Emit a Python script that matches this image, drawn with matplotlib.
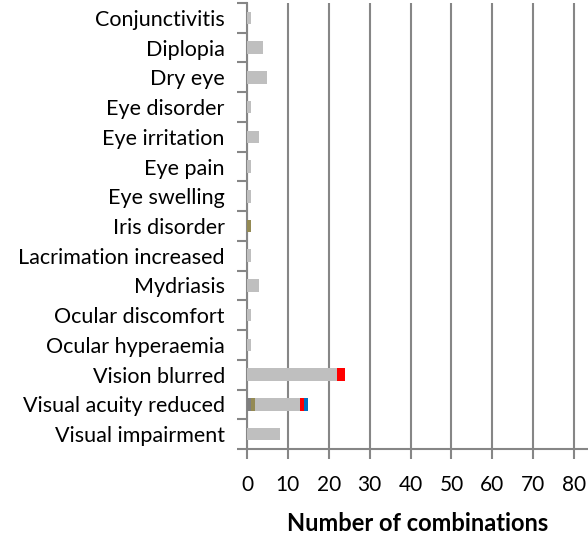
import numpy as np
import matplotlib.pyplot as plt

categories = ['Conjunctivitis', 'Diplopia', 'Dry eye', 'Eye disorder', 'Eye irritation',
              'Eye pain', 'Eye swelling', 'Iris disorder', 'Lacrimation increased',
              'Mydriasis', 'Ocular discomfort', 'Ocular hyperaemia', 'Vision blurred',
              'Visual acuity reduced', 'Visual impairment']

# stacked segments, in drawing order left to right
dark_gray = [0, 0, 0, 0, 0, 0, 0, 0, 0, 0, 0, 0, 0, 1, 0]
olive =     [0, 0, 0, 0, 0, 0, 0, 1, 0, 0, 0, 0, 0, 1, 0]
light_gray = [1, 4, 5, 1, 3, 1, 1, 0, 1, 3, 1, 1, 22, 11, 8]
red =       [0, 0, 0, 0, 0, 0, 0, 0, 0, 0, 0, 0, 2, 1, 0]
blue =      [0, 0, 0, 0, 0, 0, 0, 0, 0, 0, 0, 0, 0, 1, 0]

series = [(dark_gray, '#7F7F7F'), (olive, '#948A54'), (light_gray, '#BFBFBF'),
          (red, '#FF0000'), (blue, '#0070C0')]

plt.rcParams['font.family'] = ['Lato', 'DejaVu Sans']

fig = plt.figure(figsize=(5.88, 5.4), dpi=100)
ax = fig.add_axes([247/588, 1 - 449/540, 341/588, 446/540])

y = np.arange(len(categories))
left = np.zeros(len(categories))
for vals, col in series:
    vals = np.array(vals, dtype=float)
    ax.barh(y, vals, left=left, height=0.42, color=col, zorder=3)
    left += vals

ax.set_ylim(len(categories) - 0.5, -0.5)
ax.set_xlim(0, 83.4)

ax.set_xticks(np.arange(0, 81, 10))
ax.xaxis.grid(True, color='#868686', linewidth=1.5, zorder=0)
ax.tick_params(axis='x', direction='out', length=7, width=1.5, color='#868686',
               labelsize=15, pad=12)

ax.set_yticks(np.arange(len(categories) + 1) - 0.5)
ax.set_yticklabels([])
ax.set_yticks(y, minor=True)
ax.set_yticklabels(categories, minor=True, fontsize=15.5)
ax.tick_params(axis='y', which='major', direction='out', length=7, width=1.5, color='#868686')
ax.tick_params(axis='y', which='minor', length=0, pad=16)

for s in ['top', 'right']:
    ax.spines[s].set_visible(False)
for s in ['left', 'bottom']:
    ax.spines[s].set_color('#868686')
    ax.spines[s].set_linewidth(1.5)

ax.set_xlabel('Number of combinations', fontsize=17, fontweight='bold', labelpad=12)

fig.savefig('out.png', dpi=100)
